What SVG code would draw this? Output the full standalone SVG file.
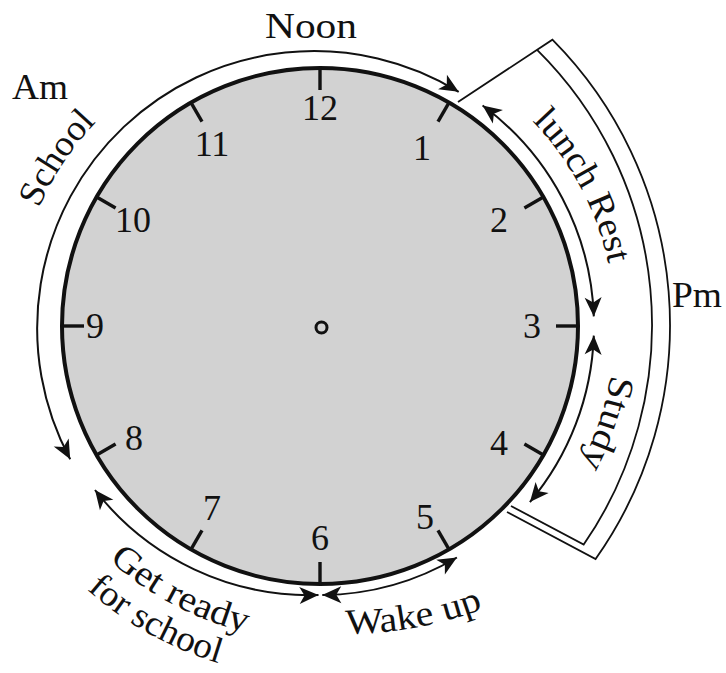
<svg xmlns="http://www.w3.org/2000/svg" width="726" height="673" viewBox="0 0 726 673">
<style>
.t{font-family:"Liberation Serif","Times New Roman",serif;font-size:36px;fill:#111}
.n{font-family:"Liberation Serif","Times New Roman",serif;font-size:36px;fill:#111;text-anchor:middle}
.arc{fill:none;stroke:#111;stroke-width:2;marker-start:url(#ah);marker-end:url(#ah)}
.box{fill:none;stroke:#111;stroke-width:1.8;stroke-linejoin:miter}
.tick{stroke:#111;stroke-width:3.4}
</style>
<defs>
<marker id="ah" viewBox="-20 -10 21 20" refX="0" refY="0" markerWidth="21" markerHeight="20" markerUnits="userSpaceOnUse" orient="auto-start-reverse">
<path d="M0,0 L-19,-8.5 L-14,0 L-19,8.5 Z" fill="#111"/>
</marker>
<path id="pSchool" d="M38.9,208.4 A300,300 0 0 1 121.2,98.2"/>
<path id="pLunch" d="M532.2,121.1 A295,295 0 0 1 613.4,295.2"/>
<path id="pStudy" d="M610.9,374.7 A295,295 0 0 1 561.7,495.2"/>
<path id="pGet" d="M109.2,560.1 A315,315 0 0 0 292.5,639.8"/>
<path id="pFor" d="M86.8,589.6 A352,352 0 0 0 289.3,676.7"/>
<path id="pWake" d="M346,634 A400,400 0 0 0 505,600"/>
</defs>
<rect width="726" height="673" fill="#fff"/>

<g id="pm-box">
<path class="box" d="M458,102 L552.4,39.7 A405,405 0 0 1 595.6,559 L507,512"/>
<path class="box" d="M537.1,49.8 A387,387 0 0 1 583.7,544.6 L511,506"/>
<text class="t" x="672" y="307" font-size="35" textLength="50" lengthAdjust="spacingAndGlyphs">Pm</text>
</g>

<g id="clock">
<circle cx="320" cy="326" r="258" fill="#d2d2d2" stroke="#111" stroke-width="4"/>
<g id="ticks">
<line class="tick" x1="320" y1="68" x2="320" y2="90"/>
<line class="tick" x1="449" y1="102.6" x2="438" y2="121.6"/>
<line class="tick" x1="543.4" y1="197" x2="524.4" y2="208"/>
<line class="tick" x1="578" y1="326" x2="556" y2="326"/>
<line class="tick" x1="543.4" y1="455" x2="524.4" y2="444"/>
<line class="tick" x1="449" y1="549.4" x2="438" y2="530.4"/>
<line class="tick" x1="320" y1="584" x2="320" y2="562"/>
<line class="tick" x1="191" y1="549.4" x2="202" y2="530.4"/>
<line class="tick" x1="96.6" y1="455" x2="115.6" y2="444"/>
<line class="tick" x1="62" y1="326" x2="84" y2="326"/>
<line class="tick" x1="96.6" y1="197" x2="115.6" y2="208"/>
<line class="tick" x1="191" y1="102.6" x2="202" y2="121.6"/>
</g>
<g id="numbers">
<text class="n" x="320" y="120">12</text>
<text class="n" x="422" y="160">1</text>
<text class="n" x="499" y="232">2</text>
<text class="n" x="532" y="338">3</text>
<text class="n" x="499" y="455">4</text>
<text class="n" x="425" y="529">5</text>
<text class="n" x="320" y="550">6</text>
<text class="n" x="212" y="520">7</text>
<text class="n" x="134" y="450">8</text>
<text class="n" x="95" y="338">9</text>
<text class="n" x="133" y="232">10</text>
<text class="n" x="212" y="156">11</text>
</g>
<circle cx="321.5" cy="327.5" r="5.5" fill="none" stroke="#111" stroke-width="3"/>
</g>

<g id="connectors">
<path class="arc" d="M70.2,459.3 A277,277 0 0 1 458.7,91.8"/>
<path class="arc" d="M482.6,105.5 A274,274 0 0 1 593.8,316.4"/>
<path class="arc" d="M593.8,335.6 A274,274 0 0 1 529.9,502.1"/>
<path class="arc" d="M322.3,595 A269,269 0 0 0 456.9,557.5"/>
<path class="arc" d="M318.5,595 A272,272 0 0 1 95,490"/>
</g>

<g id="label-noon"><text class="t" x="265" y="38" textLength="92" lengthAdjust="spacingAndGlyphs">Noon</text></g>
<g id="label-am"><text class="t" x="12" y="99" textLength="56" lengthAdjust="spacingAndGlyphs">Am</text></g>
<g id="label-school"><text class="t"><textPath href="#pSchool" textLength="104" lengthAdjust="spacingAndGlyphs">School</textPath></text></g>
<g id="label-lunch"><text class="t"><textPath href="#pLunch" textLength="164" lengthAdjust="spacingAndGlyphs">lunch Rest</textPath></text></g>
<g id="label-study"><text class="t"><textPath href="#pStudy" textLength="95" lengthAdjust="spacingAndGlyphs">Study</textPath></text></g>
<g id="label-wake"><text class="t"><textPath href="#pWake" textLength="140" lengthAdjust="spacingAndGlyphs">Wake up</textPath></text></g>
<g id="label-getready">
<text class="t"><textPath href="#pGet" textLength="156" lengthAdjust="spacingAndGlyphs">Get ready</textPath></text>
<text class="t"><textPath href="#pFor" textLength="152" lengthAdjust="spacingAndGlyphs">for school</textPath></text>
</g>
</svg>
